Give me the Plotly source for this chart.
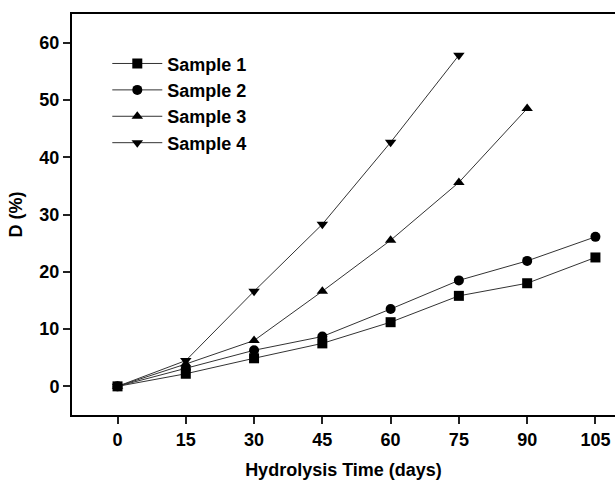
import plotly.graph_objects as go

days = [0, 15, 30, 45, 60, 75, 90, 105]
sample1 = [0, 2.2, 4.9, 7.5, 11.2, 15.8, 18.0, 22.5]
sample2 = [0, 3.1, 6.3, 8.7, 13.5, 18.5, 21.9, 26.1]
sample3 = [0, 3.9, 8.0, 16.6, 25.5, 35.6, 48.5]
sample4 = [0, 4.5, 16.6, 28.3, 42.6, 57.8]
names = ["Sample 1", "Sample 2", "Sample 3", "Sample 4"]
symbols = ["square", "circle", "triangle-up", "triangle-down"]
series = [sample1, sample2, sample3, sample4]

fig = go.Figure()
for name, sym, ys in zip(names, symbols, series):
    fig.add_trace(go.Scatter(
        x=days[:len(ys)], y=ys, name=name, mode="lines+markers",
        line=dict(color="#333333", width=1),
        marker=dict(symbol=sym, size=10, color="black"),
    ))

fam = "Liberation Sans, Arial, sans-serif"
bold18 = dict(family=fam, size=18, color="black", weight="bold")
fig.update_layout(
    width=615, height=480,
    margin=dict(l=72, r=0, t=14, b=65),
    plot_bgcolor="white", paper_bgcolor="white",
    font=dict(family=fam, size=18, color="black"),
    showlegend=True,
    legend=dict(x=0.065, y=0.922, xanchor="left", yanchor="top",
                bgcolor="rgba(0,0,0,0)", font=bold18,
                itemwidth=50, tracegroupgap=0),
    xaxis=dict(range=[-10, 109.3], tickvals=days, ticktext=[str(d) for d in days],
               showgrid=False, zeroline=False, showline=True, linecolor="black", linewidth=2,
               mirror=True, ticks="outside", ticklen=7, tickwidth=2, tickcolor="#222222",
               tickfont=bold18,
               title=dict(text="<b>Hydrolysis Time (days)</b>", standoff=17, font=bold18)),
    yaxis=dict(range=[-5, 65], tickvals=[0, 10, 20, 30, 40, 50, 60],
               showgrid=False, zeroline=False, showline=True, linecolor="black", linewidth=2,
               mirror=False, ticks="outside", ticklen=7, tickwidth=2, tickcolor="#222222",
               tickfont=bold18,
               title=dict(text="<b>D (%)</b>", standoff=12, font=bold18)),
)
fig.write_html("out.html")
